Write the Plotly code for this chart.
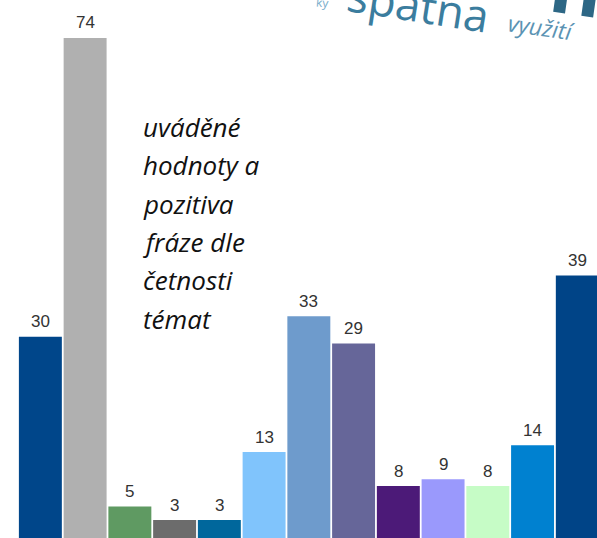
import plotly.graph_objects as go

categories = [f"T{i}" for i in range(1, 14)]
values = [30, 74, 5, 3, 3, 13, 33, 29, 8, 9, 8, 14, 39]
colors = ["#00468a", "#b0b0b0", "#5f9a62", "#6c6c6c", "#00679c", "#80c4fc",
          "#6e9bcc", "#666699", "#4c1a78", "#9a99fc", "#c6fcc6", "#0081d0", "#004487"]
note_lines = ["uváděné", "hodnoty a", "pozitiva", "fráze dle", "četnosti", "témat"]
logo_words = ["ky", "spatna", "využití", "n"]

W, H = 597, 538
L = 18
PW = W - L


def px(xp, yp):
    return (xp - L) / PW, (H - yp) / H


fig = go.Figure()
fig.add_trace(go.Bar(x=categories, y=values, marker=dict(color=colors, line=dict(width=0)),
                     hoverinfo="skip"))

annotations = []
for c, v in zip(categories, values):
    annotations.append(dict(x=c, y=v, xref="x", yref="y", text=str(v), showarrow=False,
                            yanchor="middle", yshift=15,
                            font=dict(family="Liberation Sans Narrow, Liberation Sans, Arial",
                                      size=17, color="#333333")))

for i, line in enumerate(note_lines):
    x, y = px(141, 127 + i * 38.3)
    annotations.append(dict(x=x, y=y, xref="paper", yref="paper", text="<i>" + line + "</i>",
                            showarrow=False, xanchor="left", yanchor="middle", align="left",
                            font=dict(family="Open Sans", size=26, color="#111111")))

logo_style = [
    dict(pos=(322, 3), size=12, color="#7aaecb", angle=5, italic=False, bold=False),
    dict(pos=(418, 5), size=45, color="#3b7d9e", angle=9, italic=False, bold=False),
    dict(pos=(541, 27), size=23, color="#5b93b3", angle=8, italic=True, bold=False),
    dict(pos=(577, -16), size=80, color="#2d6785", angle=8, italic=False, bold=True),
]
for word, st in zip(logo_words, logo_style):
    x, y = px(*st["pos"])
    t = word
    if st["italic"]:
        t = "<i>" + t + "</i>"
    if st["bold"]:
        t = "<b>" + t + "</b>"
    annotations.append(dict(x=x, y=y, xref="paper", yref="paper", text=t,
                            showarrow=False, textangle=st["angle"],
                            xanchor="center", yanchor="middle",
                            font=dict(family="Open Sans", size=st["size"], color=st["color"])))

fig.update_layout(
    width=W, height=H,
    margin=dict(l=L, r=0, t=0, b=0, pad=0, autoexpand=False),
    plot_bgcolor="white", paper_bgcolor="white",
    showlegend=False, bargap=0.04,
    xaxis=dict(visible=False, range=[-0.5, 12.44]),
    yaxis=dict(visible=False, range=[0.35, 79.58]),
    annotations=annotations,
)
fig.write_html("out.html", config={"displayModeBar": False},
               post_script="document.body.style.margin='0';")
